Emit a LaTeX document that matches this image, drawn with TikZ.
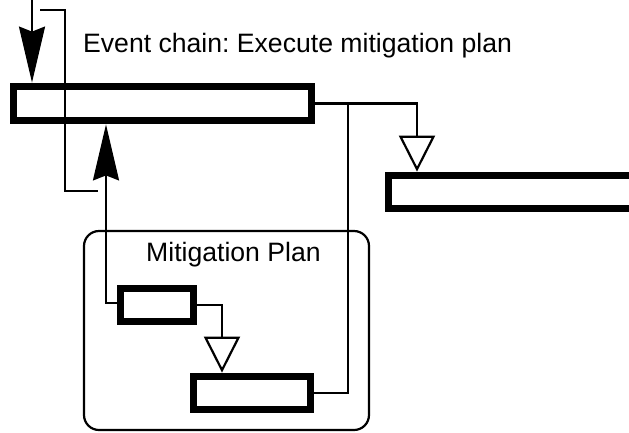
\documentclass[tikz,border=0pt]{standalone}
\usepackage{fontspec}
\setmainfont{Liberation Sans}
\usetikzlibrary{arrows.meta}
\begin{document}
\frenchspacing
\begin{tikzpicture}[x=1pt,y=-1pt,
  thin line/.style={line width=2.2pt, line join=miter},
  barbox/.style={draw, line width=7.8pt, inner sep=0pt},
  bigarrow/.style={thin line, -{Stealth[length=56pt,width=26pt,inset=5pt]}},
  openarrow/.style={thin line, -{Triangle[open,length=36pt,width=36pt]}},
  lbl/.style={font=\fontsize{26.6}{30}\selectfont, inner sep=0pt, anchor=base west},
  plan/.style={draw, line width=2.2pt, rounded corners=15pt, inner sep=0pt}]
\useasboundingbox (0,0) rectangle (629,432);
\clip (0,0) rectangle (629,432);
% container
\node[plan, minimum width=285pt, minimum height=199pt] (planbox) at (226.5,330.5) {};
\node[lbl] (plantitle) at (146,261) {Mitigation Plan};
\node[lbl] (title) at (83,52) {Event chain: Execute mitigation plan};
% boxes
\node[barbox, minimum width=298pt, minimum height=34pt] (main) at (162.5,103.5) {};
\node[barbox, minimum width=312pt, minimum height=33pt] (rbar) at (544.5,192) {};
\node[barbox, minimum width=73pt, minimum height=33pt] (b1) at (157,305) {};
\node[barbox, minimum width=117pt, minimum height=33pt] (b2) at (252,393) {};
% helper coordinates
\coordinate (in) at (32,0);
\coordinate (br0) at (40,10);
\coordinate (br1) at (98,191);
\coordinate (ax) at (106,0);
\coordinate (tx) at (417,0);
\coordinate (jx) at (348,0);
\coordinate (tx2) at (222,0);
% connectors
\draw[bigarrow] (in) -- (in |- main.north);
\draw[thin line] (br0) -- ++(25,0) |- (br1);
\draw[bigarrow] ([yshift=2pt]b1.west) -| (ax |- main.south);
\draw[openarrow] (main.east) -| (tx |- rbar.north);
\draw[thin line] (b2.east) -| (jx |- main.east);
\draw[openarrow] (b1.east) -| (tx2 |- b2.north);
\end{tikzpicture}
\end{document}
